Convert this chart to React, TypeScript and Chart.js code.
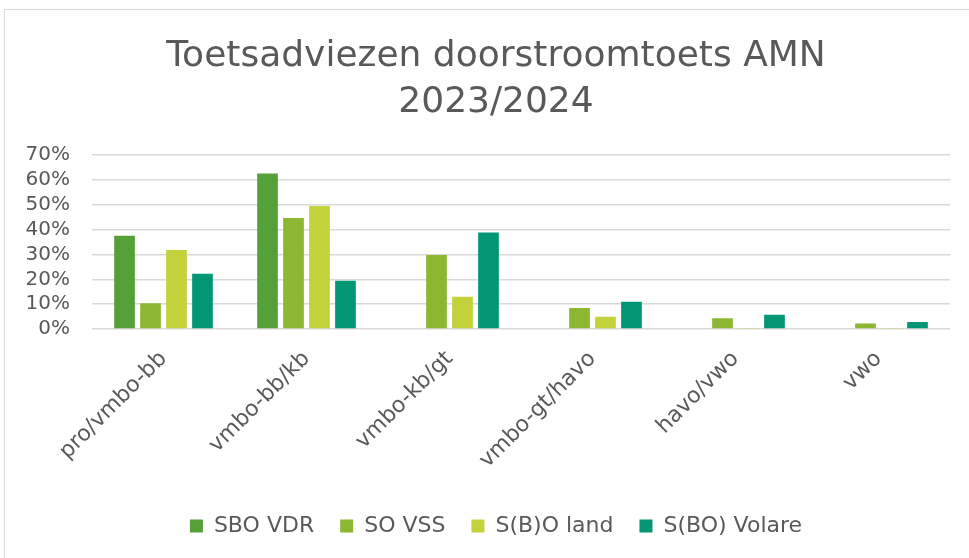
import React, { useEffect, useRef } from "react";
import { Chart, registerables } from "chart.js";

Chart.register(...registerables);

const categories = ["pro/vmbo-bb", "vmbo-bb/kb", "vmbo-kb/gt", "vmbo-gt/havo", "havo/vwo", "vwo"];
const seriesNames = ["SBO VDR", "SO VSS", "S(B)O land", "S(BO) Volare"];
const sboVdr = [37.5, 62.6, 0, 0, 0, 0];
const soVss = [10.4, 44.7, 29.8, 8.5, 4.3, 2.2];
const sboLand = [31.8, 49.5, 13.0, 4.9, 0.4, 0.4];
const sboVolare = [22.2, 19.4, 38.9, 11.0, 5.7, 2.8];
const seriesColors = ["#56A03A", "#8BB733", "#C3D13A", "#029674"];
const titleLines = ["Toetsadviezen doorstroomtoets AMN", "2023/2024"];

const FONT = "'DejaVu Sans', sans-serif";
const TEXT = "#595959";

export default function App() {
  const ref = useRef<HTMLCanvasElement | null>(null);
  useEffect(() => {
    if (!ref.current) return;
    const values = [sboVdr, soVss, sboLand, sboVolare];
    const chart = new Chart(ref.current, {
      type: "bar",
      data: {
        labels: categories,
        datasets: seriesNames.map((name, i) => ({
          label: name,
          data: values[i],
          backgroundColor: seriesColors[i],
          borderWidth: 0,
          categoryPercentage: 0.727,
          barPercentage: 0.796,
        })),
      },
      options: {
        animation: false,
        responsive: false,
        maintainAspectRatio: false,
        layout: { padding: { left: 22, right: 0, top: 0, bottom: 11 } },
        plugins: {
          title: {
            display: true,
            text: titleLines,
            color: TEXT,
            font: { family: FONT, size: 36, weight: "normal", lineHeight: 1.28 },
            padding: { top: 34, bottom: 29 },
          },
          legend: {
            position: "bottom",
            labels: {
              color: TEXT,
              font: { family: FONT, size: 22 },
              boxWidth: 13,
              boxHeight: 13,
              padding: 26,
            },
          },
          tooltip: { enabled: false },
        },
        scales: {
          x: {
            grid: { display: false },
            border: { display: false },
            ticks: {
              color: TEXT,
              font: { family: FONT, size: 22 },
              maxRotation: 45,
              minRotation: 45,
              padding: 9,
            },
            afterFit: (s: any) => {
              s.height = 160;
            },
          },
          y: {
            min: 0,
            max: 70,
            border: { display: false },
            grid: { color: "#d9d9d9", lineWidth: 1.5, drawTicks: false },
            ticks: {
              stepSize: 10,
              autoSkip: false,
              color: TEXT,
              font: { family: FONT, size: 20 },
              padding: 22,
              callback: (v: any) => `${v}%`,
            },
            afterFit: (s: any) => {
              s.width = 70;
            },
          },
          yRight: {
            type: "linear",
            position: "right",
            min: 0,
            max: 70,
            grid: { display: false },
            border: { display: false },
            ticks: { display: false },
            afterFit: (s: any) => {
              s.width = 20;
            },
          },
        },
      },
    });
    return () => chart.destroy();
  }, []);
  return (
    <div style={{ position: "fixed", left: 0, top: 0, width: 969, height: 558, overflow: "hidden", background: "#fff" }}>
      <div style={{ position: "absolute", left: 4, top: 9, width: 1000, height: 600, border: "1px solid #d9d9d9" }} />
      <canvas ref={ref} width={970} height={558} style={{ position: "absolute", left: 0, top: 0 }} />
    </div>
  );
}
